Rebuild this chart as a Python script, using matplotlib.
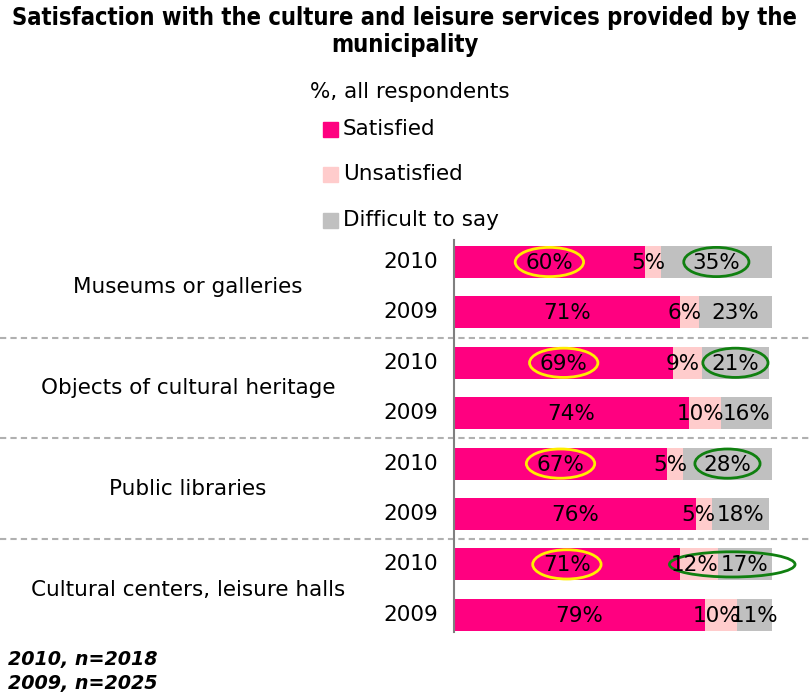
import matplotlib
matplotlib.use("Agg")
import matplotlib.pyplot as plt
from matplotlib.patches import Ellipse, Rectangle
from matplotlib.transforms import blended_transform_factory

# Survey results: % of all respondents
categories = ["Museums or galleries", "Objects of cultural heritage",
              "Public libraries", "Cultural centers, leisure halls"]
years = ["2010", "2009"]
satisfied = [60, 71, 69, 74, 67, 76, 71, 79]
unsatisfied = [5, 6, 9, 10, 5, 5, 12, 10]
difficult = [35, 23, 21, 16, 28, 18, 17, 11]
series_names = ["Satisfied", "Unsatisfied", "Difficult to say"]
colors = ["#FF0080", "#FFCCCC", "#C0C0C0"]

W, H = 809, 697
fig = plt.figure(figsize=(W / 100, H / 100), dpi=100)
plt.rcParams["font.family"] = ["DejaVu Sans"]
FS = 15.5

def fy(py):
    return 1 - py / H

def fx(px):
    return px / W

ax = fig.add_axes([fx(454), fy(632), fx(772) - fx(454), fy(240) - fy(632)])
n = len(satisfied)
rows = list(range(n))
row_px = 50.4
ax.set_ylim((632 - 262) / row_px, (240 - 262) / row_px)
ax.set_xlim(0, 100)
bh = 32 / row_px

# small leftward nudge for the narrow middle-segment labels
label_shift = [0, -1.5, 0]
lefts = [0] * n
for vals, col, dx in zip([satisfied, unsatisfied, difficult], colors, label_shift):
    ax.barh(rows, vals, left=lefts, height=bh, color=col, edgecolor="none")
    for r, v, l in zip(rows, vals, lefts):
        ax.text(l + v / 2 + dx, r + 0.02, f"{v}%", ha="center", va="center",
                fontsize=FS, color="black")
    lefts = [a + b for a, b in zip(lefts, vals)]

for s in ["top", "right", "bottom"]:
    ax.spines[s].set_visible(False)
ax.spines["left"].set_color("#808080")
ax.spines["left"].set_linewidth(1.5)
ax.set_xticks([])
ax.set_yticks([])

# Highlight ellipses on the 2010 rows
for g in range(len(categories)):
    r = 2 * g
    xs = satisfied[r] / 2
    ax.add_patch(Ellipse((xs, r), 21.5, 0.58, fill=False,
                         edgecolor="#FFEE00", lw=2, clip_on=False))
    if g < 3:
        xd = satisfied[r] + unsatisfied[r] + difficult[r] / 2
        ax.add_patch(Ellipse((xd, r), 20.5, 0.58, fill=False,
                             edgecolor="#108010", lw=2, clip_on=False))
    else:
        xd = satisfied[r] + (unsatisfied[r] + difficult[r]) / 2 + 2
        ax.add_patch(Ellipse((xd, r), 39.5, 0.5, fill=False,
                             edgecolor="#108010", lw=2, clip_on=False))

# Group separators and labels
tr = blended_transform_factory(fig.transFigure, ax.transData)
for g in range(1, len(categories)):
    ax.plot([0, 1], [2 * g - 0.5] * 2, transform=tr, color="#B0B0B0",
            lw=1.5, ls=(0, (3, 2)), clip_on=False)
for g, cat in enumerate(categories):
    ax.text(fx(188), 2 * g + 0.5, cat, transform=tr, ha="center",
            va="center", fontsize=FS)
    for k, yr in enumerate(years):
        ax.text(fx(438), 2 * g + k, yr, transform=tr, ha="right",
                va="center", fontsize=FS)

# Title, subtitle, legend, footnote
fig.text(0.5, fy(18), "Satisfaction with the culture and leisure services provided by the",
         ha="center", va="center", fontsize=17, fontweight="bold",
         fontstretch="condensed")
fig.text(0.5, fy(45), "municipality", ha="center", va="center",
         fontsize=17, fontweight="bold", fontstretch="condensed")
fig.text(fx(410), fy(92), "%, all respondents", ha="center", va="center",
         fontsize=FS)
for name, col, py in zip(series_names, colors, [129, 174, 220]):
    fig.patches.append(Rectangle((fx(323), fy(py + 7.5)), fx(15), fy(py - 7.5) - fy(py + 7.5),
                                 transform=fig.transFigure, color=col))
    fig.text(fx(343), fy(py), name, ha="left", va="center", fontsize=FS)
fig.text(fx(8), fy(660), "2010, n=2018", ha="left", va="center",
         fontsize=13.8, fontweight="bold", fontstyle="italic")
fig.text(fx(8), fy(683), "2009, n=2025", ha="left", va="center",
         fontsize=13.8, fontweight="bold", fontstyle="italic")

fig.savefig("out.png", dpi=100)
